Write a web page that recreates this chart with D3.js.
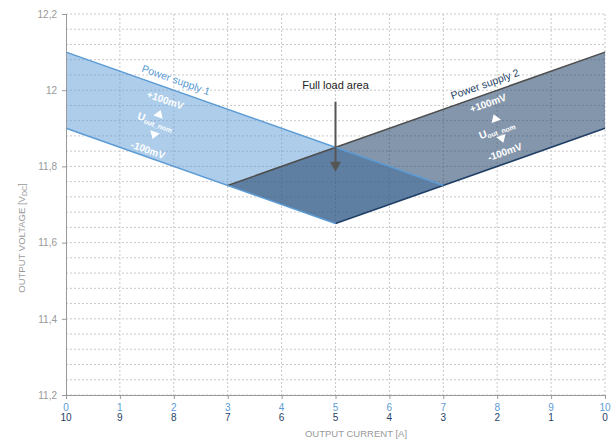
<!DOCTYPE html>
<html>
<head>
<meta charset="utf-8">
<script src="https://cdn.jsdelivr.net/npm/d3@7"></script>
<style>
  body { margin: 0; background: #fff; }
  svg { font-family: "Liberation Sans", Arial, sans-serif; }
</style>
</head>
<body>
<div id="chart"></div>
<script>
// values
var currentPS1 = [0, 1, 2, 3, 4, 5, 6, 7, 8, 9, 10]
var currentPS2 = [10, 9, 8, 7, 6, 5, 4, 3, 2, 1, 0]
var voltTicks = [11.2, 11.4, 11.6, 11.8, 12, 12.2]
var ps1Area = [[0, 12.1], [7, 11.75], [5, 11.65], [0, 11.9]]
var ps2Area = [[10, 12.1], [3, 11.75], [5, 11.65], [10, 11.9]]
var ps1Upper = [[0, 12.1], [7, 11.75]]
var ps1Lower = [[0, 11.9], [5, 11.65]]
var ps2Upper = [[10, 12.1], [3, 11.75]]
var ps2Lower = [[10, 11.9], [5, 11.65]]
var fullLoadArrow = [[5, 11.97], [5, 11.786]]
// band annotations: [x, y]
var ps1Notes = {label: [2.04, 12.027], plus: [1.84, 11.974], up: [1.73, 11.938], unom: [1.65, 11.914], down: [1.63, 11.882], minus: [1.52, 11.843]}
var ps2Notes = {label: [7.77, 12.016], plus: [7.83, 11.966], up: [7.96, 11.927], unom: [8.0, 11.893], down: [8.09, 11.872], minus: [8.14, 11.838]}

var W = 615, H = 441
var margin = {top: 14, right: 10, bottom: 46, left: 66}
var width = W - margin.left - margin.right
var height = H - margin.top - margin.bottom

var blue = "#5b9bd5", navy = "#1f3f66", grey = "#999"

var svg = d3.select("#chart").append("svg").attr("width", W).attr("height", H)
var g = svg.append("g").attr("transform", "translate(" + margin.left + "," + margin.top + ")")

var x = d3.scaleLinear().domain([0, 10]).range([0, width])
var y = d3.scaleLinear().domain([11.2, 12.2]).range([height, 0])

// grid
var minor = d3.range(0, 26).map(function(i){ return 11.2 + i * 0.04 })
g.append("g").selectAll("line").data(minor).enter().append("line")
  .attr("x1", 0).attr("x2", width)
  .attr("y1", function(d){ return y(d) }).attr("y2", function(d){ return y(d) })
  .style("stroke", "#c8c8c8").style("stroke-dasharray", "2,2").style("stroke-width", 1)
g.append("g").selectAll("line").data(currentPS1.slice(1)).enter().append("line")
  .attr("y1", 0).attr("y2", height)
  .attr("x1", function(d){ return x(d) }).attr("x2", function(d){ return x(d) })
  .style("stroke", "#c8c8c8").style("stroke-dasharray", "2,2").style("stroke-width", 1)

var line = d3.line().x(function(d){ return x(d[0]) }).y(function(d){ return y(d[1]) })

g.append("path").attr("d", line(ps1Area) + "Z").style("fill", blue).style("fill-opacity", 0.5)
g.append("path").attr("d", line(ps2Area) + "Z").style("fill", navy).style("fill-opacity", 0.55)

g.append("path").attr("d", line(ps2Upper)).style("stroke", "#4d4d4d").style("stroke-width", 1.5).style("fill", "none")
g.append("path").attr("d", line(ps2Lower)).style("stroke", navy).style("stroke-width", 1.5).style("fill", "none")
g.append("path").attr("d", line(ps1Upper)).style("stroke", blue).style("stroke-width", 1.5).style("fill", "none")
g.append("path").attr("d", line(ps1Lower)).style("stroke", blue).style("stroke-width", 1.5).style("fill", "none")

// axes
var yAxis = d3.axisLeft(y).tickValues(voltTicks).tickSize(4).tickPadding(5)
  .tickFormat(function(d){ return d3.format("~g")(d).replace(".", ",") })
var ya = g.append("g").call(yAxis)
ya.select(".domain").style("stroke", grey)
ya.selectAll(".tick line").style("stroke", grey)
ya.selectAll("text").style("fill", grey).style("font-size", "10px").style("font-family", "Liberation Sans, Arial, sans-serif")

var xAxis = d3.axisBottom(x).tickValues(currentPS1).tickSize(4).tickFormat("")
var xa = g.append("g").attr("transform", "translate(0," + height + ")").call(xAxis)
xa.select(".domain").style("stroke", grey)
xa.selectAll(".tick line").style("stroke", grey)

g.append("g").selectAll("text").data(currentPS1).enter().append("text")
  .attr("x", function(d){ return x(d) }).attr("y", height + 16)
  .attr("text-anchor", "middle").style("font-size", "10px").style("fill", blue)
  .text(function(d){ return d })
g.append("g").selectAll("text").data(currentPS2).enter().append("text")
  .attr("x", function(d, i){ return x(currentPS1[i]) }).attr("y", height + 26)
  .attr("text-anchor", "middle").style("font-size", "10px").style("fill", navy)
  .text(function(d){ return d })

svg.append("text").attr("x", 356).attr("y", 437).attr("text-anchor", "middle")
  .style("font-size", "9.5px").style("fill", grey).text("OUTPUT CURRENT [A]")
var yt = svg.append("text").attr("transform", "translate(25,238) rotate(-90)").attr("text-anchor", "middle")
  .style("font-size", "9.5px").style("fill", grey)
yt.append("tspan").text("OUTPUT VOLTAGE [V")
yt.append("tspan").attr("dy", 2).style("font-size", "7px").text("DC")
yt.append("tspan").attr("dy", -2).text("]")

// full load arrow
g.append("line").attr("x1", x(fullLoadArrow[0][0])).attr("x2", x(fullLoadArrow[1][0]))
  .attr("y1", y(fullLoadArrow[0][1])).attr("y2", y(fullLoadArrow[1][1]) - 8)
  .style("stroke", "#555").style("stroke-width", 2)
var tip = [x(fullLoadArrow[1][0]), y(fullLoadArrow[1][1])]
g.append("path").attr("d", "M" + tip[0] + "," + tip[1] + "L" + (tip[0] - 5.5) + "," + (tip[1] - 10) + "L" + (tip[0] + 5.5) + "," + (tip[1] - 10) + "Z")
  .style("fill", "#555")
g.append("text").attr("x", x(5)).attr("y", y(fullLoadArrow[0][1]) - 13).attr("text-anchor", "middle")
  .style("font-size", "11px").style("fill", "#222").text("Full load area")

// band notes
function notes(n, angle, labelColor, labelText){
  function at(p){ return "translate(" + x(p[0]) + "," + y(p[1]) + ") rotate(" + angle + ")" }
  g.append("text").attr("transform", at(n.label)).attr("text-anchor", "middle").attr("dy", "0.35em")
    .style("font-size", "10.5px").style("fill", labelColor).text(labelText)
  g.append("text").attr("transform", at(n.plus)).attr("text-anchor", "middle").attr("dy", "0.35em")
    .style("font-size", "10px").style("font-weight", "bold").style("fill", "#fff").text("+100mV")
  g.append("text").attr("transform", at(n.minus)).attr("text-anchor", "middle").attr("dy", "0.35em")
    .style("font-size", "10px").style("font-weight", "bold").style("fill", "#fff").text("-100mV")
  var u = g.append("text").attr("transform", at(n.unom)).attr("text-anchor", "middle").attr("dy", "0.2em")
    .style("font-size", "10.5px").style("font-weight", "bold").style("fill", "#fff")
  u.append("tspan").text("U")
  u.append("tspan").attr("dy", 2).style("font-size", "7px").text("out_nom")
  g.append("path").attr("transform", at(n.up)).attr("d", "M0,-4L5,3.5L-5,3.5Z").style("fill", "#fff")
  g.append("path").attr("transform", at(n.down)).attr("d", "M0,4L5,-3.5L-5,-3.5Z").style("fill", "#fff")
}
var ang = Math.atan2(y(11.75) - y(12.1), x(7) - x(0)) * 180 / Math.PI
notes(ps1Notes, ang, blue, "Power supply 1")
notes(ps2Notes, -ang, navy, "Power supply 2")
</script>
</body>
</html>
